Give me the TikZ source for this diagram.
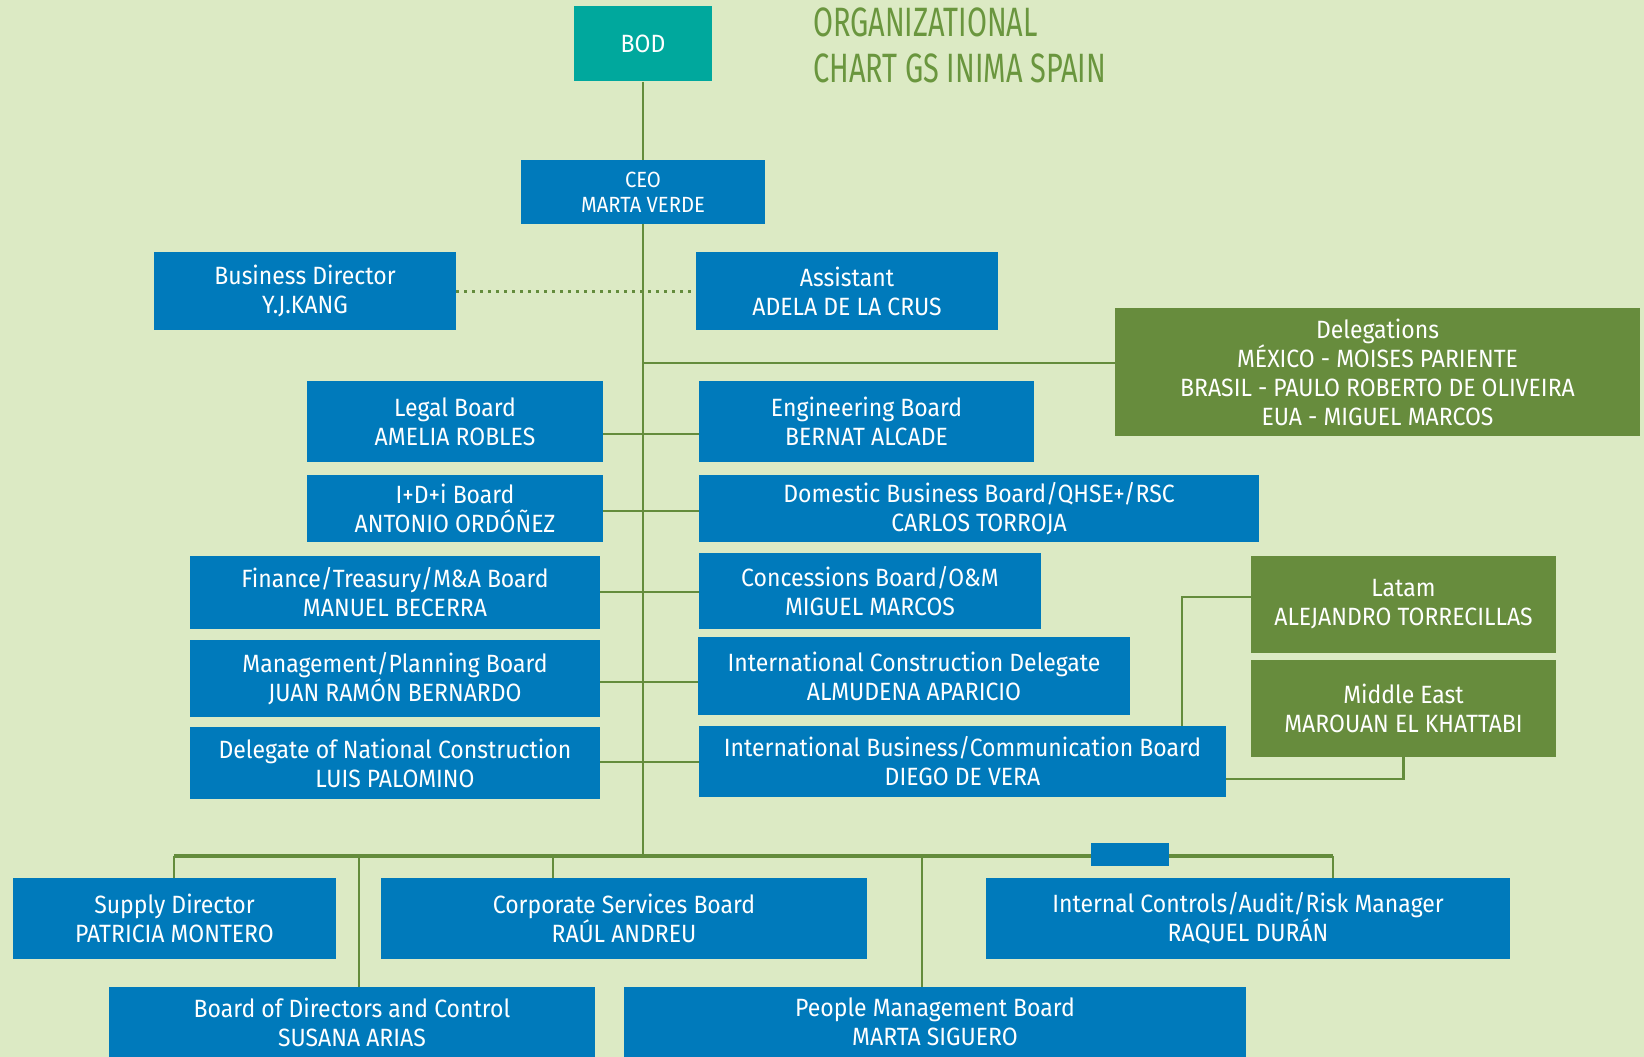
\documentclass[tikz,border=0pt]{standalone}
\usepackage{fontspec}
\setmainfont[FakeStretch=0.92]{Fira Sans}
\newfontfamily\titlefont[FakeStretch=0.705]{Fira Sans}
\definecolor{cbg}{RGB}{220,234,196}
\definecolor{cblue}{RGB}{0,122,187}
\definecolor{cgreen}{RGB}{103,140,61}
\definecolor{cteal}{RGB}{0,168,157}
\definecolor{cline}{RGB}{100,140,60}
\definecolor{ctitle}{RGB}{106,150,62}
\begin{document}
\begin{tikzpicture}[x=1pt,y=-1pt,
  box/.style={rectangle, inner sep=0pt, text=white, align=center, font=\fontsize{25}{29}\selectfont},
  bluebox/.style={box, fill=cblue},
  greenbox/.style={box, fill=cgreen},
  tealbox/.style={box, fill=cteal},
  wh/.style 2 args={minimum width=#1pt, minimum height=#2pt},
  conn/.style={draw=cline, line width=2.5pt},
  busline/.style={draw=cline, line width=4pt},
  dotconn/.style={draw=cline, line width=3pt, dash pattern=on 3pt off 5pt},
  titletext/.style={anchor=base west, inner sep=0pt, text=ctitle, font=\titlefont\fontsize{41}{45}\selectfont}
]
\fill[cbg] (0,0) rectangle (1644,1057);
\useasboundingbox (0,0) rectangle (1644,1057);

% title
\node[titletext] (title1) at (813,37) {ORGANIZATIONAL};
\node[titletext] (title2) at (813,82) {CHART GS INIMA SPAIN};

% top
\node[tealbox, wh={138}{75}] (bod) at (643,44) {BOD};
\node[bluebox, wh={244}{64}, font=\fontsize{22}{25}\selectfont] (ceo) at (643,192) {CEO\\MARTA VERDE};
\node[bluebox, wh={302}{78}] (bizdir) at (305,291) {Business Director\\Y.J.KANG};
\node[bluebox, wh={302}{78}] (assist) at (847,291) {Assistant\\ADELA DE LA CRUS};
\node[greenbox, wh={525}{128}] (deleg) at (1377.5,372) {Delegations\\MÉXICO - MOISES PARIENTE\\BRASIL - PAULO ROBERTO DE OLIVEIRA\\EUA - MIGUEL MARCOS};

% left column
\node[bluebox, wh={296}{81}] (legal) at (455,421.5) {Legal Board\\AMELIA ROBLES};
\node[bluebox, wh={296}{67}] (idi) at (455,508.5) {I+D+i Board\\ANTONIO ORDÓÑEZ};
\node[bluebox, wh={410}{73}] (fin) at (395,592.5) {Finance/Treasury/M\&A Board\\MANUEL BECERRA};
\node[bluebox, wh={410}{77}] (mgmt) at (395,678.5) {Management/Planning Board\\JUAN RAMÓN BERNARDO};
\node[bluebox, wh={410}{72}] (natcon) at (395,763) {Delegate of National Construction\\LUIS PALOMINO};

% right column
\node[bluebox, wh={335}{81}] (eng) at (866.5,421.5) {Engineering Board\\BERNAT ALCADE};
\node[bluebox, wh={560}{67}] (dom) at (979,508.5) {Domestic Business Board/QHSE+/RSC\\CARLOS TORROJA};
\node[bluebox, wh={342}{76}] (conc) at (870,591) {Concessions Board/O\&M\\MIGUEL MARCOS};
\node[bluebox, wh={432}{78}] (intcon) at (914,676) {International Construction Delegate\\ALMUDENA APARICIO};
\node[bluebox, wh={527}{71}] (intbiz) at (962.5,761.5) {International Business/Communication Board\\DIEGO DE VERA};
\node[greenbox, wh={305}{97}] (latam) at (1403.5,604.5) {Latam\\ALEJANDRO TORRECILLAS};
\node[greenbox, wh={305}{97}] (mideast) at (1403.5,708.5) {Middle East\\MAROUAN EL KHATTABI};

% bottom
\node[bluebox, wh={323}{81}] (supply) at (174.5,918.5) {Supply Director\\PATRICIA MONTERO};
\node[bluebox, wh={486}{81}] (corp) at (624,918.5) {Corporate Services Board\\RAÚL ANDREU};
\node[bluebox, wh={524}{81}] (audit) at (1248,918.5) {Internal Controls/Audit/Risk Manager\\RAQUEL DURÁN};
\node[bluebox, wh={486}{70}] (bodctl) at (352,1022) {Board of Directors and Control\\SUSANA ARIAS};
\node[bluebox, wh={622}{70}] (people) at (935,1022) {People Management Board\\MARTA SIGUERO};

% bus
\coordinate (busL) at (174,856);
\coordinate (busR) at (1333,856);
\coordinate (busC) at (643,856);

% connectors
\draw[conn] (bod.south) -- (ceo.north);
\draw[conn] (ceo.south) -- (busC);
\draw[dotconn] (bizdir.east) -- (assist.west);
\draw[conn] (ceo.south |- 0,363) -- (deleg.west |- 0,363);
\draw[conn] (legal.east |- 0,434) -- (eng.west |- 0,434);
\draw[conn] (idi.east |- 0,511) -- (dom.west |- 0,511);
\draw[conn] (fin.east |- 0,592) -- (conc.west |- 0,592);
\draw[conn] (mgmt.east |- 0,682) -- (intcon.west |- 0,682);
\draw[conn] (natcon.east |- 0,762) -- (intbiz.west |- 0,762);
\draw[conn] (intbiz.north -| 1182,0) |- (latam.west |- 0,597);
\draw[conn] (mideast.south) |- (intbiz.east |- 0,779);

\draw[busline] (busL) -- (busR);
\node[fill=cblue, inner sep=0pt, wh={78}{23}] (busbox) at (1130,854.5) {};
\draw[conn] (busL) -- (supply.north -| busL);
\draw[conn] (bodctl.north -| 359,0) -- (359,856);
\draw[conn] (corp.north -| 553,0) -- (553,856);
\draw[conn] (people.north -| 922,0) -- (922,856);
\draw[conn] (audit.north -| busR) -- (busR);
\end{tikzpicture}
\end{document}
